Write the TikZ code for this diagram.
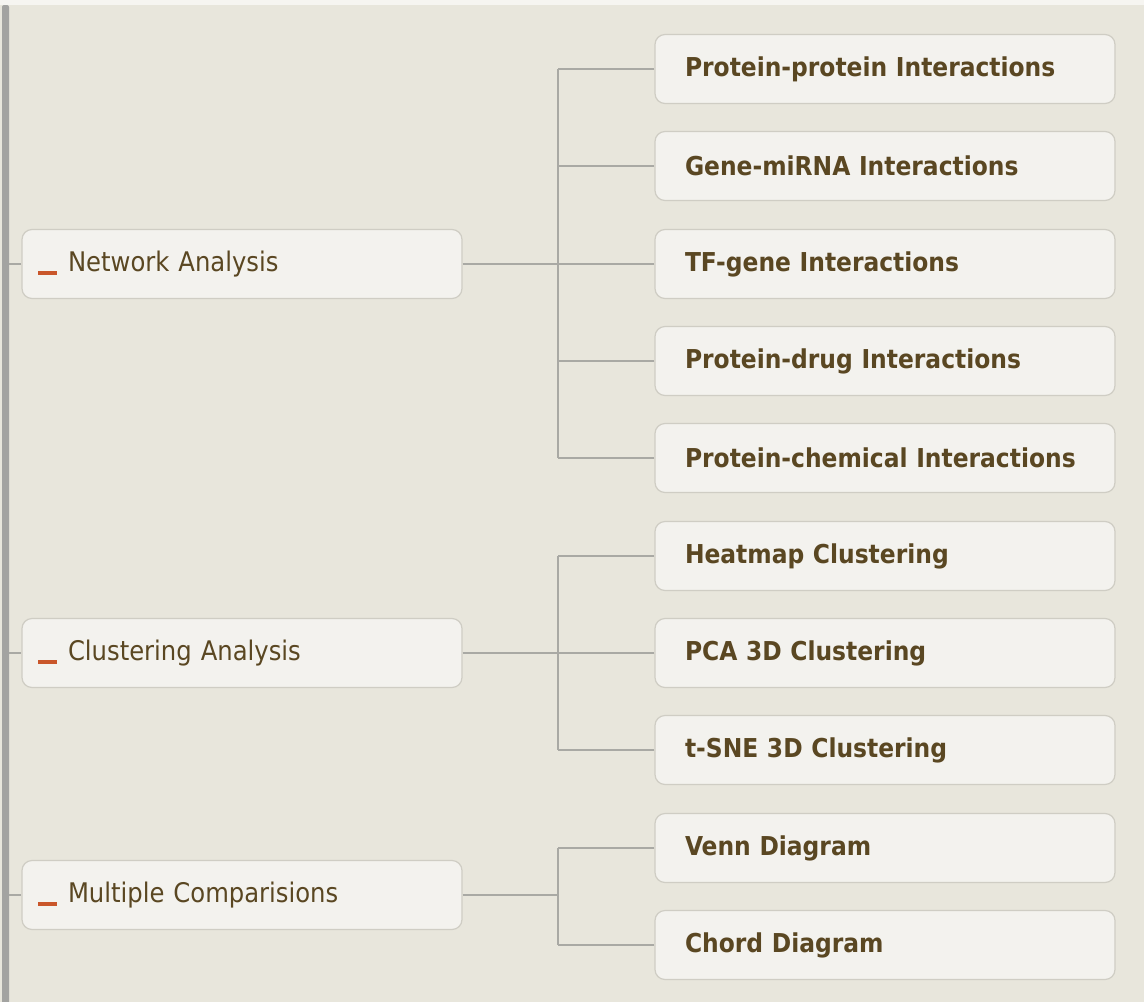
\documentclass[tikz,border=0pt]{standalone}
\usepackage{fontspec}
\setmainfont{DejaVu Sans Condensed}
\definecolor{paper}{HTML}{E8E6DC}
\definecolor{boxfill}{HTML}{F3F2EE}
\definecolor{boxline}{HTML}{CFCDC4}
\definecolor{wire}{HTML}{A9A9A4}
\definecolor{railc}{HTML}{A3A3A1}
\definecolor{ink}{HTML}{5A4722}
\definecolor{dashc}{HTML}{C9562A}
\begin{document}
\begin{tikzpicture}[x=1pt,y=-1pt,
  card/.style={draw=boxline, line width=1.2pt, fill=boxfill, rounded corners=10pt,
    minimum height=69pt, text=ink, align=left},
  topic/.style={card, text width=408pt, inner xsep=16pt, minimum width=440pt,
    font=\fontsize{27}{30}\selectfont},
  leaf/.style={card, text width=400pt, inner xsep=30pt, minimum width=460pt,
    font=\fontsize{26}{30}\selectfont\bfseries},
  wirestyle/.style={draw=wire, line width=1.6pt}]
  % page
  \useasboundingbox (0,0) rectangle (1144,1002);
  \fill[paper] (0,0) rectangle (1144,1002);
  \fill[white!60!paper] (0,0) rectangle (1144,5);
  \begin{scope}
    \clip (0,0) rectangle (1144,1002);
    \fill[railc, rounded corners=2pt] (2,5) rectangle (9,1010);
  \end{scope}

  \newcommand{\minus}{{\color{dashc}\rule[-4pt]{19pt}{4.5pt}}\hspace{11pt}}

  % main topics
  \node[topic] (net) at (242,264) {\minus Network Analysis};
  \node[topic] (clu) at (242,653) {\minus Clustering Analysis};
  \node[topic] (mul) at (242,895) {\minus Multiple Comparisions};

  % sub topics
  \node[leaf] (ppi)  at (885,69)  {Protein-protein Interactions};
  \node[leaf] (gmi)  at (885,166) {Gene-miRNA Interactions};
  \node[leaf] (tfg)  at (885,264) {TF-gene Interactions};
  \node[leaf] (pdi)  at (885,361) {Protein-drug Interactions};
  \node[leaf] (pci)  at (885,458) {Protein-chemical Interactions};
  \node[leaf] (heat) at (885,556) {Heatmap Clustering};
  \node[leaf] (pca)  at (885,653) {PCA 3D Clustering};
  \node[leaf] (tsne) at (885,750) {t-SNE 3D Clustering};
  \node[leaf] (venn) at (885,848) {Venn Diagram};
  \node[leaf] (chord) at (885,945) {Chord Diagram};

  % rail stubs
  \foreach \n in {net,clu,mul}
    \draw[wirestyle] (9,0 |- \n.west) -- (\n.west);

  % elbow connectors with a shared bus at x = 558
  \coordinate (busx) at (558,0);
  \foreach \p/\kids in {net/{ppi,gmi,tfg,pdi,pci}, clu/{heat,pca,tsne}, mul/{venn,chord}} {
    \draw[wirestyle] (\p.east) -- (busx |- \p.east);
    \foreach \k in \kids
      \draw[wirestyle] (\k.west) -- (busx |- \k.west);
  }
  \draw[wirestyle] (busx |- ppi.west) -- (busx |- pci.west);
  \draw[wirestyle] (busx |- heat.west) -- (busx |- tsne.west);
  \draw[wirestyle] (busx |- venn.west) -- (busx |- chord.west);
\end{tikzpicture}
\end{document}
